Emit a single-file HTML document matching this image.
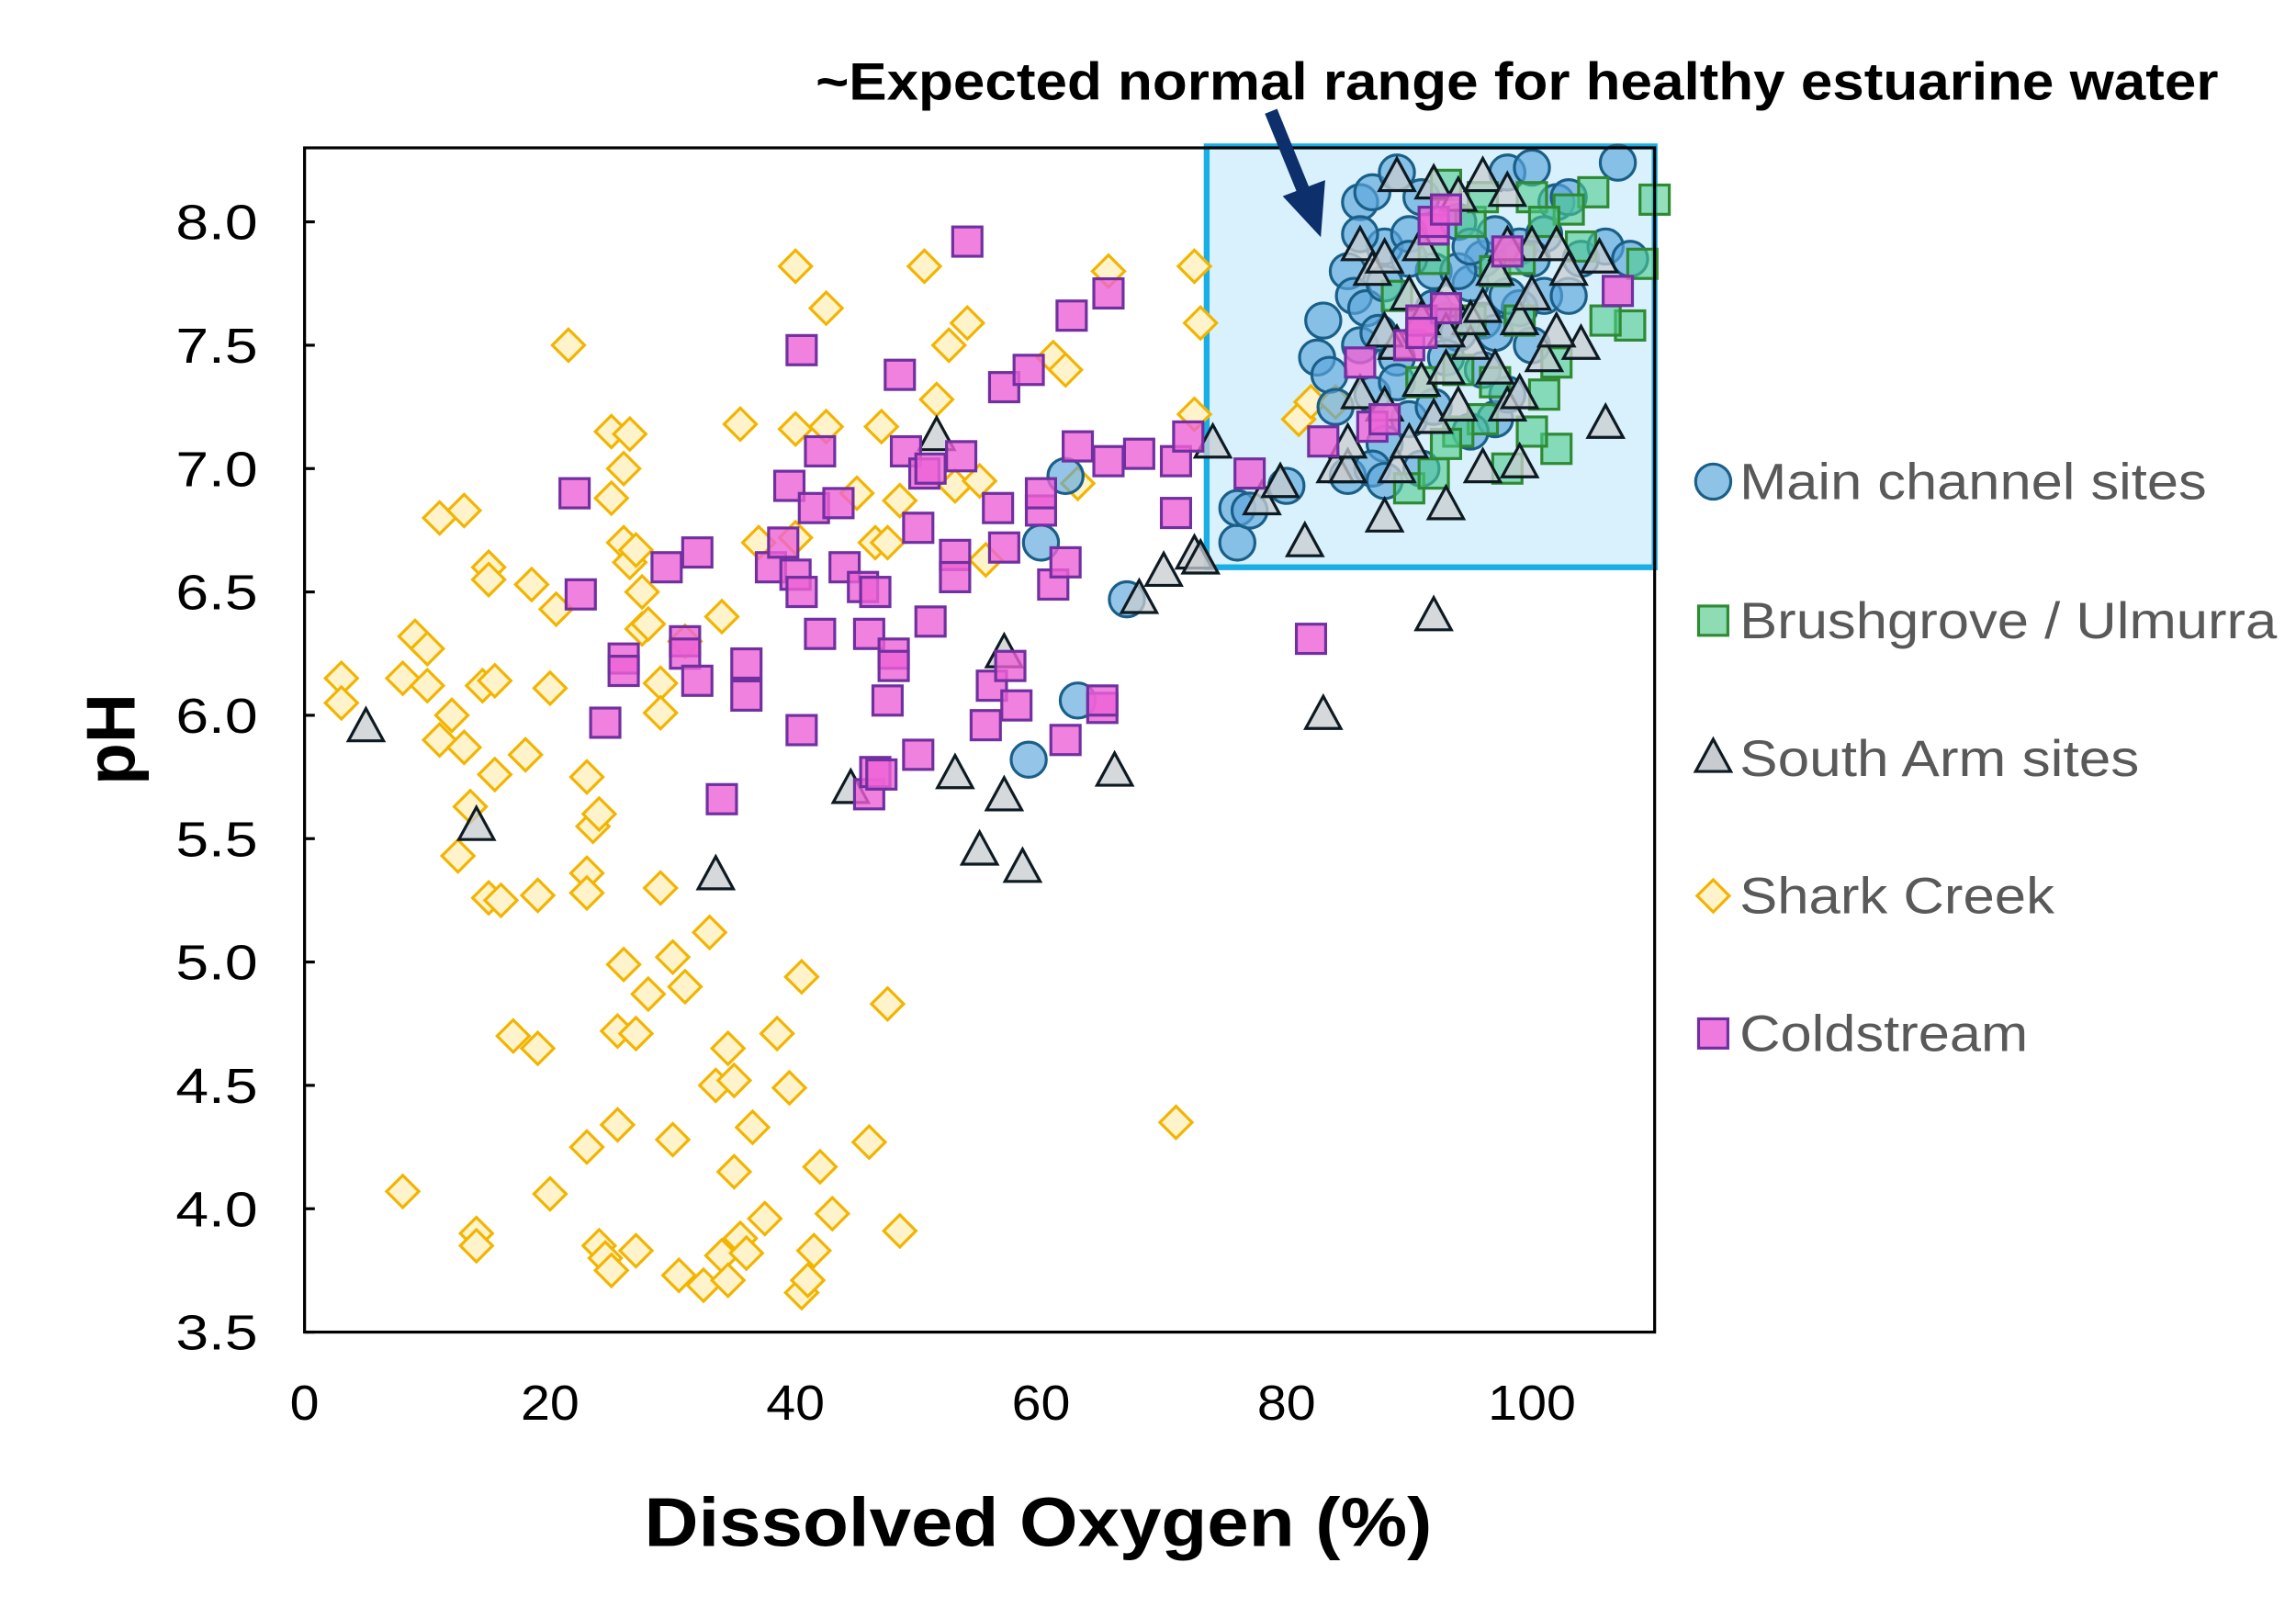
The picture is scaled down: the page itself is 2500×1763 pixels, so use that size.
<!DOCTYPE html>
<html><head><meta charset="utf-8"><style>
html,body{margin:0;padding:0;background:#fff;}
svg{display:block;font-family:"Liberation Sans",Arial,sans-serif;}
</style></head><body>
<svg id="chart" width="2500" height="1763" viewBox="0 0 1568 1106" preserveAspectRatio="none" xmlns="http://www.w3.org/2000/svg">
<rect x="0" y="0" width="1568" height="1106" fill="#fff"/>
<g id="box"></g>
<g id="marks"></g>
<g id="axes"></g>
<g id="legend"></g>
</svg>
<script>
const xTicks=[0,20,40,60,80,100];
const yTicks=[3.5,4.0,4.5,5.0,5.5,6.0,6.5,7.0,7.5,8.0];
const seriesNames=["Main channel sites","Brushgrove / Ulmurra","South Arm sites","Shark Creek","Coldstream"];
const mainX=[60,59,62,63,67,76,76,77,80,83,82.5,83.5,85,85,86,87,88,85.5,86,87,88,89,90,91,92,93,94,95,96,97,98,99,100,101,102,103,104,107,106,108,87,88,90,89,92,94,96,100,98,86.5,84,87.5,91,95,97,99,101,103,86,88,90,92,94,96,98,100,89,93,95,97];
const mainY=[6.7,5.82,6.97,6.06,6.47,6.7,6.84,6.83,6.93,7.6,7.45,7.38,6.97,7.8,8.08,8.12,7.9,7.7,7.5,7.3,7.1,8.2,7.95,8.1,7.8,7.6,8.0,7.75,7.4,7.2,8.2,7.9,8.22,7.7,8.08,8.1,7.85,8.24,7.9,7.85,7.0,6.95,7.2,7.45,7.25,7.55,7.85,7.5,7.3,7.65,7.25,7.55,7.0,7.15,7.95,7.65,7.95,7.7,7.95,7.75,7.85,7.65,7.8,7.6,7.7,7.85,7.35,7.45,7.9,7.55];
const brushX=[110,109,108,102,90,92,102,105,93,95,97,99,100,101,96,94,98,104,103,91,89,92,97,100,95,106,101,99,96,94,91,93];
const brushY=[8.09,7.83,7.58,7.08,6.92,6.98,7.43,8.12,8.15,8.0,7.8,7.6,8.1,7.3,7.2,7.4,7.0,7.9,8.05,7.6,7.7,7.85,7.35,7.15,7.6,7.6,8.0,7.85,8.1,7.15,7.35,7.1];
const southX=[5,14,33.5,44.5,51.5,53,55,57,57,58.5,66,68,70,72.5,73,74,78,79.5,81.5,83,84,85,88,92,93,99,106,105.5,86,87,88,89,90,91,92,93,94,95,96,97,98,99,100,101,102,103,104,85,86,88,89,90,91,92,93,94,95,96,97,98,99,100,102,93,96,98,91,89,88];
const southY=[5.95,5.55,5.35,5.7,7.13,5.76,5.45,5.67,6.25,5.38,5.77,6.47,6.58,6.65,6.63,7.1,6.87,6.94,6.7,6.0,7.0,7.0,6.8,6.4,6.85,7.02,7.18,7.85,7.9,7.8,7.85,8.18,7.7,7.9,8.15,7.7,8.1,7.5,8.18,7.8,8.12,7.6,7.9,7.45,7.9,7.8,7.5,7.1,7.3,7.25,7.0,7.1,7.35,7.2,7.4,7.25,7.6,7.0,7.4,7.25,7.3,7.7,7.55,7.55,7.65,7.9,7.6,7.5,7.55];
const sharkX=[3,3,8,8,9,10,10,11,11,12,12.5,13,13,13.5,14,14,14.5,15,15,15.5,15.5,15,16,17,18,18.5,19,19,20,20,20.5,21.5,23,23,23,23,23.5,24,24,24.5,25,25,25,25.5,25.5,26,26,26,26.5,26.5,27,27,27,27.5,27.5,28,28,29,29,29,30,30,30.5,31,31,32.5,33,33.5,34,34,34.5,34.5,35,35,35.5,35.5,36,36.5,37,37.5,38.5,39.5,40,40,40,40.5,40.5,41,41.5,42,42.5,42.5,43,45,46,46.5,47,47.5,47.5,48.5,48.5,50.5,51.5,52.5,53,54,55,55.5,61,62,63,65.5,71,72.5,72.5,73,81,82,84];
const sharkY=[6.15,6.05,6.15,4.07,6.32,6.27,6.12,6.8,5.9,6.0,5.43,6.83,5.87,5.63,3.9,3.85,6.12,6.6,6.55,6.14,5.76,5.26,5.25,4.7,5.84,6.53,5.27,4.65,6.11,4.06,6.43,7.5,5.75,5.36,5.28,4.25,5.55,5.6,3.85,3.8,7.15,6.88,3.75,4.34,4.72,7.0,6.7,4.99,7.14,6.62,6.67,4.71,3.83,6.35,6.5,6.37,4.87,6.13,6.01,5.3,5.02,4.28,3.73,6.3,4.9,3.69,5.12,4.5,6.4,3.81,4.65,3.71,4.15,4.52,7.18,3.88,3.82,4.33,6.7,3.96,4.71,4.49,7.82,7.16,6.72,4.94,3.66,3.71,3.83,4.17,7.17,7.65,3.98,6.9,4.27,6.7,7.17,6.7,4.83,3.91,6.87,7.82,7.28,7.5,6.93,7.59,6.95,6.63,7.45,7.4,6.94,7.8,4.35,7.22,7.82,7.59,7.2,7.27,7.27];
const coldX=[22,22.5,24.5,26,26,29.5,31,31,32,32,34,36,36,38,39,39.5,40,40.5,40.5,40.5,41.5,42,42,43.5,44,45.5,46,46,46.5,46.5,47,47.5,48,48,48.5,49,50,50,50.5,51,51,53,53,53.5,54,55.5,56,56.5,57,57,57.5,58,59,60,60,61,62,62,62.5,63,65,65,65.5,65.5,68,71,71,72,77,82,83,86,87,88,90,91,92,92,93,93,98,107,91];
const coldY=[6.9,6.49,5.97,6.23,6.18,6.6,6.3,6.25,6.66,6.14,5.66,6.21,6.08,6.6,6.7,6.93,6.57,5.94,7.48,6.5,6.84,7.07,6.33,6.86,6.6,6.52,6.33,5.68,6.5,5.77,5.76,6.06,6.25,6.2,7.38,7.07,6.76,5.84,6.98,7.0,6.38,6.65,6.56,7.05,7.92,5.96,6.12,6.84,7.33,6.68,6.2,6.04,7.4,6.83,6.9,6.53,6.62,5.9,7.62,7.09,6.03,6.06,7.03,7.71,7.06,7.03,6.82,7.13,6.98,6.31,7.11,7.43,7.17,7.2,7.5,7.6,7.97,8.0,7.65,8.05,7.88,7.72,7.55];

const NS="http://www.w3.org/2000/svg";
const L=208,R=1130,T=101,B=910;
function sx(v){return L+(v-0)*(R-L)/110;}
function sy(v){return B-(v-3.5)*(B-T)/(8.3-3.5);}
function mk(tag,attrs,parent){const e=document.createElementNS(NS,tag);for(const k in attrs)e.setAttribute(k,attrs[k]);parent.appendChild(e);return e;}
const box=document.getElementById('box'),marks=document.getElementById('marks'),axes=document.getElementById('axes'),legend=document.getElementById('legend');

const hb=mk('rect',{x:sx(73.5),y:sy(8.3)-1,width:sx(110)-sx(73.5),height:sy(6.6)-sy(8.3)+1,fill:'#d8f1fc',stroke:'#1aaee6','stroke-width':4},box);



const styles=[
 {shape:'circle',fill:'#5aa6dc',fo:0.65,stroke:'#1a5f88'},
 {shape:'square',fill:'#4fcb8c',fo:0.6,stroke:'#2f8a33'},
 {shape:'tri',fill:'#c8ccd0',fo:0.75,stroke:'#0e1a22'},
 {shape:'diamond',fill:'#fff3cc',fo:1,stroke:'#f3b400'},
 {shape:'square',fill:'#ee62d6',fo:0.8,stroke:'#7030a0'}
];
function drawMarker(shape,cx,cy,st,parent,name){
 let e;
 if(shape==='circle')e=mk('circle',{cx:cx,cy:cy,r:12},parent);
 else if(shape==='square')e=mk('rect',{x:cx-10,y:cy-10,width:20,height:20},parent);
 else if(shape==='tri')e=mk('polygon',{points:`${cx},${cy-13} ${cx+12},${cy+9} ${cx-12},${cy+9}`},parent);
 else e=mk('polygon',{points:`${cx},${cy-11} ${cx+11},${cy} ${cx},${cy+11} ${cx-11},${cy}`},parent);
 e.setAttribute('fill',st.fill);e.setAttribute('fill-opacity',st.fo);
 e.setAttribute('stroke',st.stroke);e.setAttribute('stroke-width',2);
 
 
 return e;
}
const data=[[mainX,mainY],[brushX,brushY],[southX,southY],[sharkX,sharkY],[coldX,coldY]];
const pname=['main-channel-point','brushgrove-point','south-arm-point','shark-creek-point','coldstream-point'];
[3,0,1,2,4].forEach(si=>{
 const g=mk('g',{},marks);
 
 
 const [xs,ys]=data[si];
 for(let i=0;i<xs.length;i++)drawMarker(styles[si].shape,sx(xs[i]),sy(ys[i]),styles[si],g,pname[si]);
});

const fr=mk('rect',{x:L,y:T,width:R-L,height:B-T,fill:'none',stroke:'#000','stroke-width':2},axes);


yTicks.forEach(v=>{
 mk('line',{x1:L,x2:L+7,y1:sy(v),y2:sy(v),stroke:'#000','stroke-width':2},axes);
 const t=mk('text',{x:176,y:sy(v)+12,'text-anchor':'end','font-size':34,fill:'#000',textLength:56,lengthAdjust:'spacingAndGlyphs'},axes);
 t.textContent=v.toFixed(1);
 
 
});
xTicks.forEach(v=>{
 const w=String(v).length*20;
 const t=mk('text',{x:sx(v),y:970,'text-anchor':'middle','font-size':34,fill:'#000',textLength:w,lengthAdjust:'spacingAndGlyphs'},axes);
 t.textContent=v;
 
 
});
const xt=mk('text',{x:709,y:1056,'text-anchor':'middle','font-size':47,'font-weight':'bold',fill:'#000',textLength:538,lengthAdjust:'spacingAndGlyphs'},axes);
xt.textContent='Dissolved Oxygen (%)';


const yt=mk('text',{x:0,y:0,'text-anchor':'middle','font-size':47,'font-weight':'bold',fill:'#000',transform:'translate(92,505) rotate(-90)'},axes);
yt.textContent='pH';


const an=mk('text',{x:1036,y:68,'text-anchor':'middle','font-size':36,'font-weight':'bold',fill:'#000',textLength:958,lengthAdjust:'spacingAndGlyphs'},axes);
an.textContent='~Expected normal range for healthy estuarine water';


const ar=mk('g',{},axes);


mk('line',{x1:868,y1:76,x2:890,y2:130,stroke:'#0d2f6b','stroke-width':9},ar);
mk('polygon',{points:'876,134 905,123 902,162',fill:'#0d2f6b'},ar);

const ly=[329,424,518,612,706];
const lw=[319,367,273,215,197];
seriesNames.forEach((n,i)=>{
 const g=mk('g',{},legend);
 
 
 const st=Object.assign({},styles[i],{fo:1});
 if(i===0)st.fill='#8fc3e6';
 if(i===1)st.fill='#8fdcb4';
 if(i===4)st.fill='#ee7ae0';
 drawMarker(st.shape,1170,ly[i],st,g,'legend-marker');
 const t=mk('text',{x:1188,y:ly[i]+12,'font-size':35,fill:'#595959',textLength:lw[i],lengthAdjust:'spacingAndGlyphs'},g);
 t.textContent=n;
 
 
});
</script>
</body></html>
